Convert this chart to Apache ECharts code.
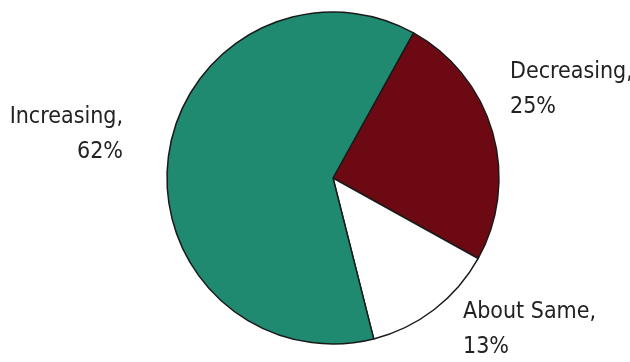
<!DOCTYPE html>
<html>
<head>
<meta charset="utf-8">
<script src="https://cdn.jsdelivr.net/npm/echarts@6/dist/echarts.min.js"></script>
<style>
  html, body { margin: 0; padding: 0; background: #fff; }
  #chart { width: 630px; height: 362px; }
</style>
</head>
<body>
<div id="chart"></div>
<script>
// Share of responses, listed clockwise from the top-right slice
const categories = ['Decreasing', 'About Same', 'Increasing'];
const shares = [25, 13, 62];
const sliceColors = ['#6d0912', '#ffffff', '#1f8a70'];

// Where each two-line label sits, keyed by category
const labelSpots = {
  'Decreasing': { x: 510, y: 55, align: 'left' },
  'About Same': { x: 463, y: 295, align: 'left' },
  'Increasing': { x: 123, y: 100, align: 'right' }
};

const chart = echarts.init(document.getElementById('chart'), null, { renderer: 'canvas' });

chart.setOption({
  backgroundColor: '#ffffff',
  animation: false,
  series: [{
    type: 'pie',
    center: [333, 178],
    radius: [0, 166],
    startAngle: 61,
    clockwise: true,
    avoidLabelOverlap: false,
    data: categories.map((name, i) => ({
      name: name,
      value: shares[i],
      itemStyle: { color: sliceColors[i] }
    })),
    itemStyle: { borderColor: '#1a1a1a', borderWidth: 1.5 },
    label: {
      show: true,
      position: 'outside',
      formatter: '{b},\n{c}%',
      fontFamily: '"DejaVu Sans Condensed", "Liberation Sans", sans-serif',
      fontSize: 23,
      lineHeight: 35,
      color: '#222222'
    },
    labelLine: { show: false },
    labelLayout: function (params) {
      const name = categories[params.dataIndex];
      const spot = labelSpots[name];
      return { x: spot.x, y: spot.y, align: spot.align, verticalAlign: 'top' };
    },
    emphasis: { disabled: true }
  }]
});
</script>
</body>
</html>
